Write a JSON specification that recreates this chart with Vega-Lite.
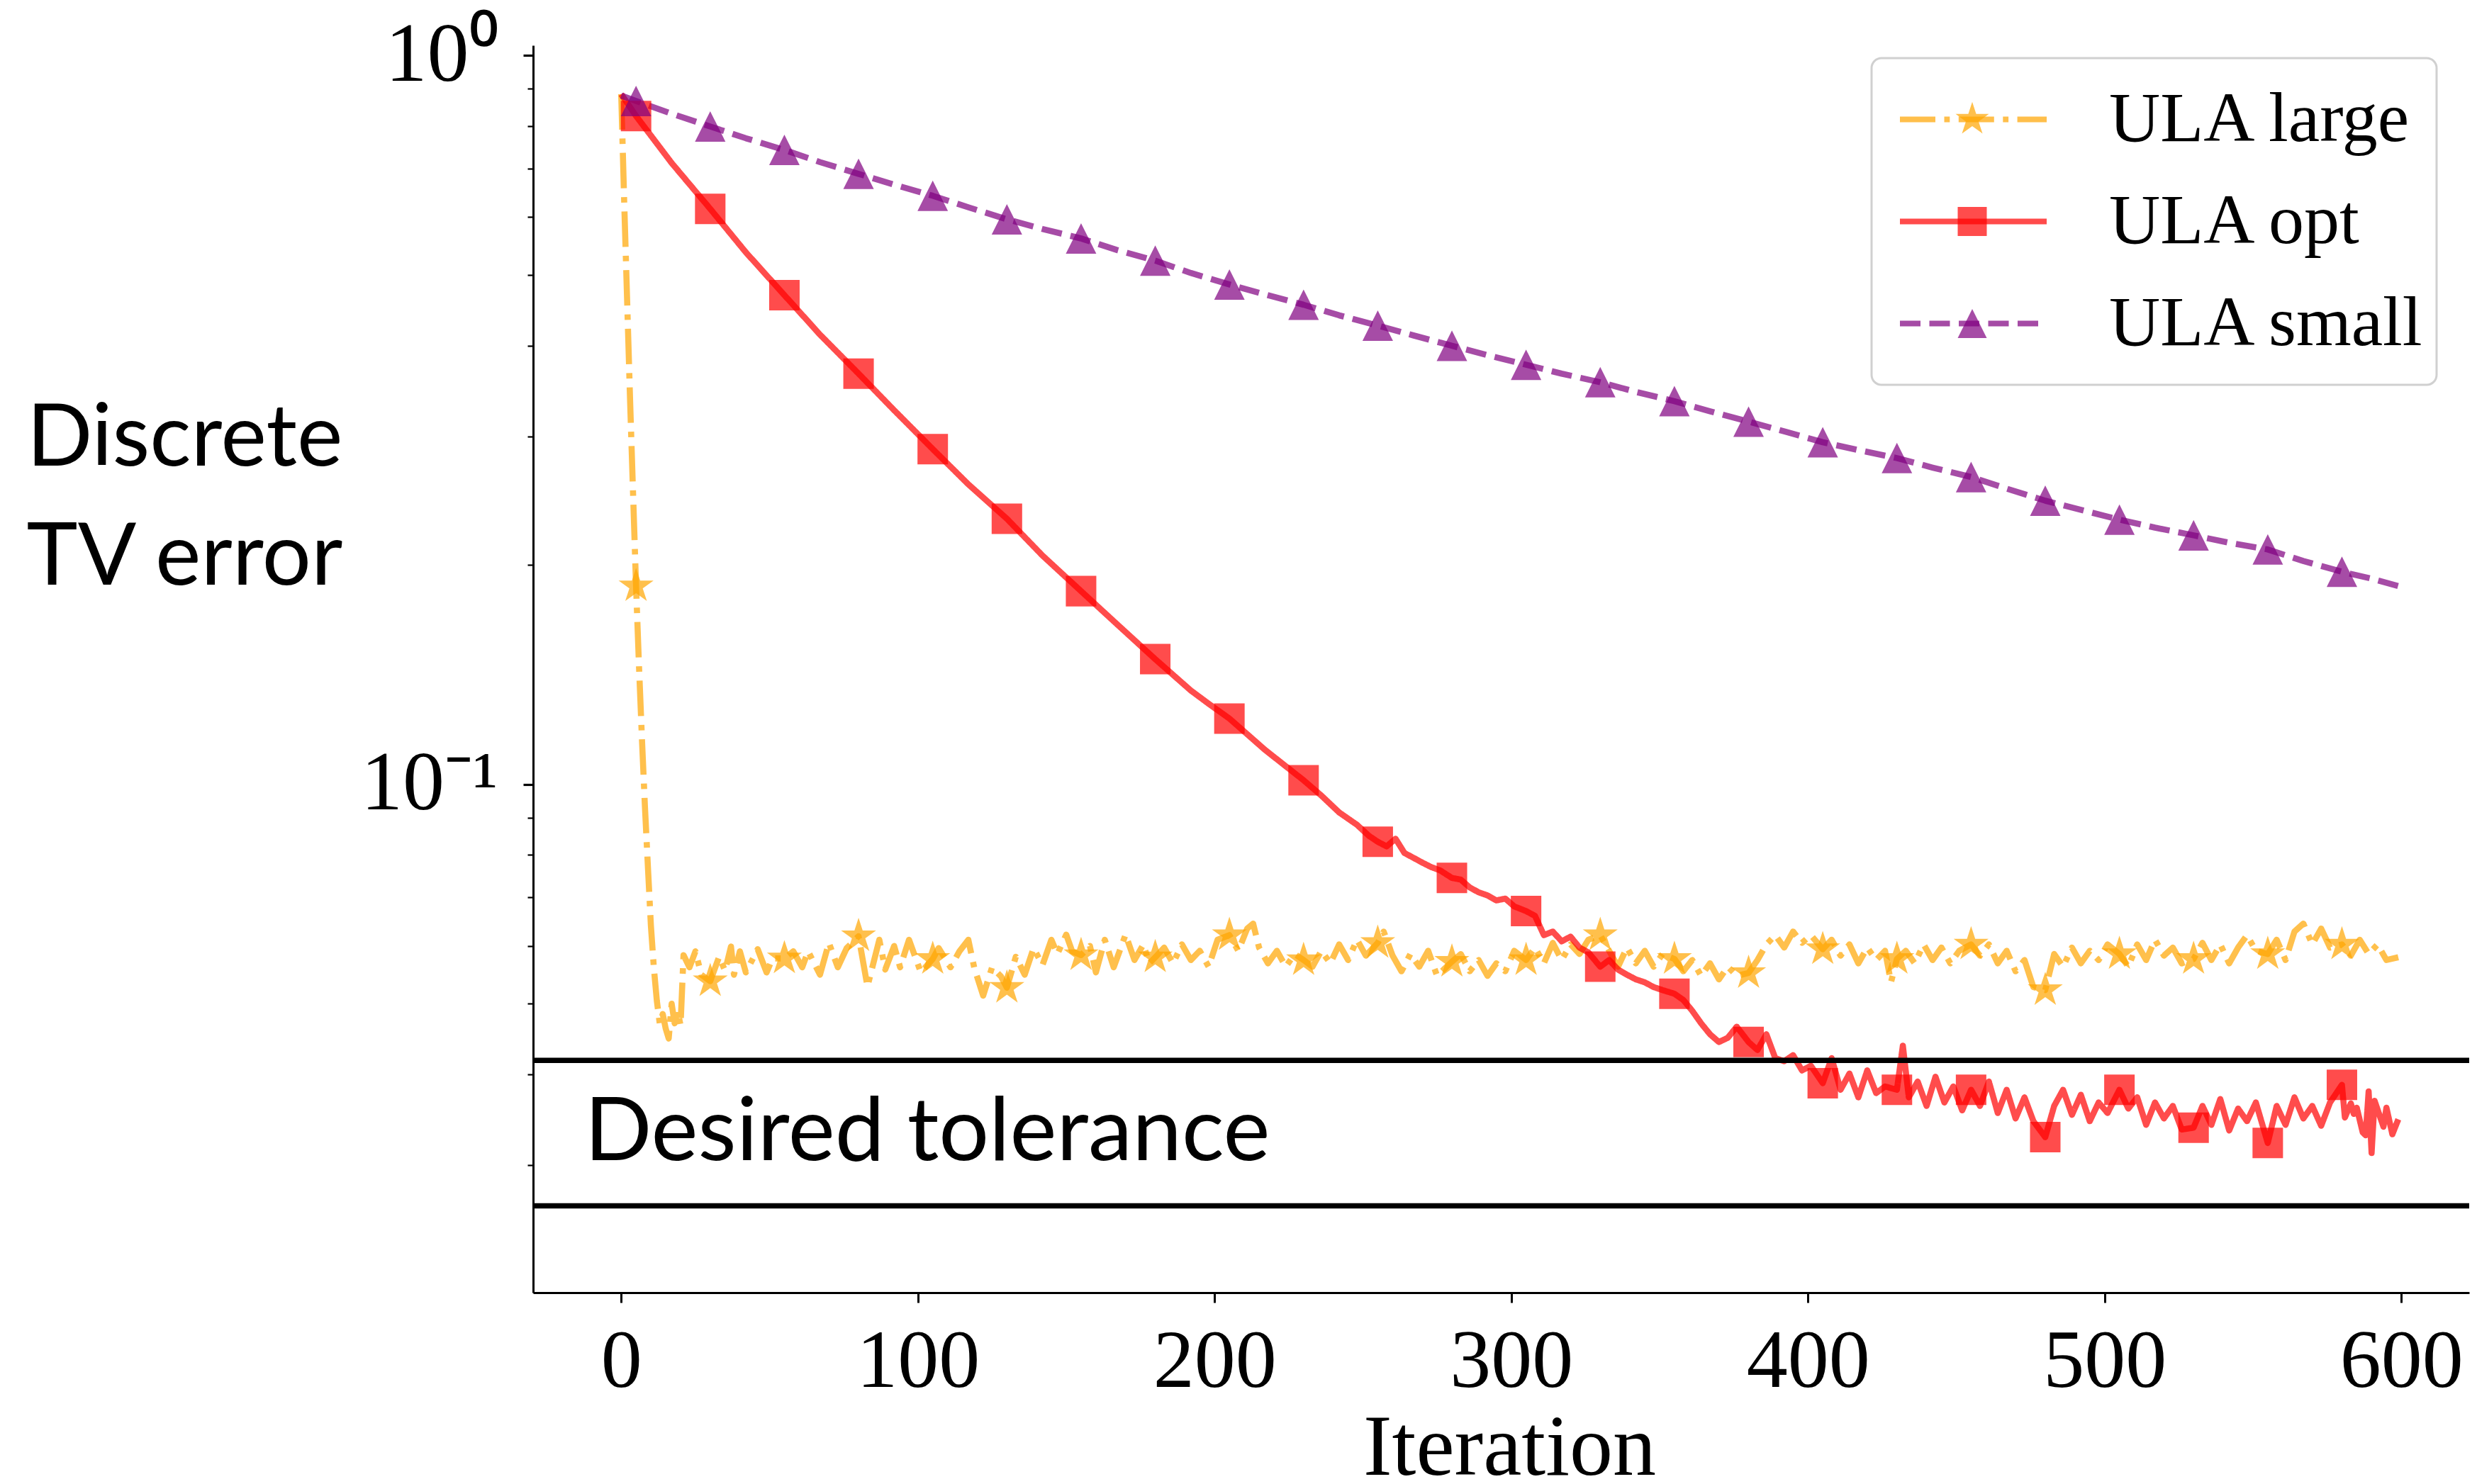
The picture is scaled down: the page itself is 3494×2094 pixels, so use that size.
{
  "$schema": "https://vega.github.io/schema/vega-lite/v6.json",
  "width": 2731,
  "height": 1760,
  "autosize": {"type": "none"},
  "padding": {"left": 752, "top": 64, "right": 11, "bottom": 270},
  "background": "white",
  "config": {"view": {"stroke": null}, "font": "Liberation Serif"},
  "datasets": {
    "curves": [
      {"s":"ULA large","it":0,"v":0.885},{"s":"ULA large","it":1,"v":0.63},{"s":"ULA large","it":2,"v":0.46},{"s":"ULA large","it":3,"v":0.335},{"s":"ULA large","it":4,"v":0.25},{"s":"ULA large","it":5,"v":0.187},{"s":"ULA large","it":6,"v":0.145},{"s":"ULA large","it":7,"v":0.115},{"s":"ULA large","it":8,"v":0.093},{"s":"ULA large","it":9,"v":0.077},{"s":"ULA large","it":10,"v":0.064},{"s":"ULA large","it":11,"v":0.056},{"s":"ULA large","it":12,"v":0.0505},{"s":"ULA large","it":13,"v":0.0469},{"s":"ULA large","it":14,"v":0.0484},{"s":"ULA large","it":15,"v":0.0462},{"s":"ULA large","it":16,"v":0.0448},{"s":"ULA large","it":17,"v":0.05},{"s":"ULA large","it":18,"v":0.047},{"s":"ULA large","it":19,"v":0.0489},{"s":"ULA large","it":20,"v":0.0467},{"s":"ULA large","it":21,"v":0.0583},{"s":"ULA large","it":23,"v":0.0561},{"s":"ULA large","it":25,"v":0.059},{"s":"ULA large","it":27,"v":0.0548},{"s":"ULA large","it":30,"v":0.0537},{"s":"ULA large","it":33,"v":0.058},{"s":"ULA large","it":35,"v":0.0555},{"s":"ULA large","it":37,"v":0.0599},{"s":"ULA large","it":38,"v":0.0548},{"s":"ULA large","it":40,"v":0.059},{"s":"ULA large","it":42,"v":0.0552},{"s":"ULA large","it":46,"v":0.0594},{"s":"ULA large","it":49,"v":0.0552},{"s":"ULA large","it":51,"v":0.0577},{"s":"ULA large","it":55,"v":0.0577},{"s":"ULA large","it":58,"v":0.059},{"s":"ULA large","it":61,"v":0.0561},{"s":"ULA large","it":63,"v":0.059},{"s":"ULA large","it":67,"v":0.0548},{"s":"ULA large","it":70,"v":0.0606},{"s":"ULA large","it":73,"v":0.0561},{"s":"ULA large","it":76,"v":0.0596},{"s":"ULA large","it":80,"v":0.0619},{"s":"ULA large","it":83,"v":0.0528},{"s":"ULA large","it":87,"v":0.0612},{"s":"ULA large","it":89,"v":0.0557},{"s":"ULA large","it":92,"v":0.06},{"s":"ULA large","it":94,"v":0.0561},{"s":"ULA large","it":97,"v":0.0612},{"s":"ULA large","it":101,"v":0.0552},{"s":"ULA large","it":105,"v":0.0576},{"s":"ULA large","it":107,"v":0.0596},{"s":"ULA large","it":111,"v":0.0561},{"s":"ULA large","it":114,"v":0.059},{"s":"ULA large","it":117,"v":0.0612},{"s":"ULA large","it":119,"v":0.056},{"s":"ULA large","it":122,"v":0.0513},{"s":"ULA large","it":125,"v":0.0561},{"s":"ULA large","it":128,"v":0.0545},{"s":"ULA large","it":130,"v":0.0526},{"s":"ULA large","it":133,"v":0.058},{"s":"ULA large","it":136,"v":0.0548},{"s":"ULA large","it":139,"v":0.0596},{"s":"ULA large","it":142,"v":0.0565},{"s":"ULA large","it":145,"v":0.0612},{"s":"ULA large","it":147,"v":0.0585},{"s":"ULA large","it":150,"v":0.0622},{"s":"ULA large","it":152,"v":0.059},{"s":"ULA large","it":155,"v":0.0583},{"s":"ULA large","it":158,"v":0.06},{"s":"ULA large","it":160,"v":0.0552},{"s":"ULA large","it":163,"v":0.0612},{"s":"ULA large","it":166,"v":0.0561},
      {"s":"ULA large","it":170,"v":0.0622},{"s":"ULA large","it":173,"v":0.0574},{"s":"ULA large","it":176,"v":0.0603},{"s":"ULA large","it":178,"v":0.0568},{"s":"ULA large","it":180,"v":0.0579},{"s":"ULA large","it":183,"v":0.0597},{"s":"ULA large","it":186,"v":0.0568},{"s":"ULA large","it":189,"v":0.0603},{"s":"ULA large","it":192,"v":0.0574},{"s":"ULA large","it":195,"v":0.0591},{"s":"ULA large","it":198,"v":0.0562},{"s":"ULA large","it":201,"v":0.0612},{"s":"ULA large","it":205,"v":0.0621},{"s":"ULA large","it":208,"v":0.0591},{"s":"ULA large","it":211,"v":0.0634},{"s":"ULA large","it":213,"v":0.0644},{"s":"ULA large","it":215,"v":0.0597},{"s":"ULA large","it":218,"v":0.0568},{"s":"ULA large","it":221,"v":0.0591},{"s":"ULA large","it":224,"v":0.0562},{"s":"ULA large","it":227,"v":0.0585},{"s":"ULA large","it":230,"v":0.0574},{"s":"ULA large","it":233,"v":0.0562},{"s":"ULA large","it":236,"v":0.0591},{"s":"ULA large","it":239,"v":0.0568},{"s":"ULA large","it":242,"v":0.0603},{"s":"ULA large","it":245,"v":0.0574},{"s":"ULA large","it":248,"v":0.0612},{"s":"ULA large","it":251,"v":0.0582},{"s":"ULA large","it":255,"v":0.0606},{"s":"ULA large","it":257,"v":0.0628},{"s":"ULA large","it":260,"v":0.0582},{"s":"ULA large","it":263,"v":0.0554},{"s":"ULA large","it":266,"v":0.0585},{"s":"ULA large","it":269,"v":0.0562},{"s":"ULA large","it":272,"v":0.0591},{"s":"ULA large","it":275,"v":0.0546},{"s":"ULA large","it":280,"v":0.0571},{"s":"ULA large","it":283,"v":0.0585},{"s":"ULA large","it":286,"v":0.0554},{"s":"ULA large","it":289,"v":0.0574},{"s":"ULA large","it":292,"v":0.0546},{"s":"ULA large","it":295,"v":0.0568},{"s":"ULA large","it":298,"v":0.0554},{"s":"ULA large","it":301,"v":0.0591},{"s":"ULA large","it":305,"v":0.0574},{"s":"ULA large","it":308,"v":0.0597},{"s":"ULA large","it":311,"v":0.0568},{"s":"ULA large","it":314,"v":0.0606},{"s":"ULA large","it":317,"v":0.0574},{"s":"ULA large","it":320,"v":0.0603},{"s":"ULA large","it":323,"v":0.0585},{"s":"ULA large","it":326,"v":0.0612},{"s":"ULA large","it":330,"v":0.0621},{"s":"ULA large","it":333,"v":0.0591},{"s":"ULA large","it":336,"v":0.0562},{"s":"ULA large","it":339,"v":0.0597},{"s":"ULA large","it":342,"v":0.0568},{"s":"ULA large","it":345,"v":0.0591},{"s":"ULA large","it":348,"v":0.0562},{"s":"ULA large","it":351,"v":0.0585},{"s":"ULA large","it":355,"v":0.0576},{"s":"ULA large","it":358,"v":0.0554},{"s":"ULA large","it":361,"v":0.0574},{"s":"ULA large","it":364,"v":0.0546},{"s":"ULA large","it":367,"v":0.0568},{"s":"ULA large","it":370,"v":0.054},{"s":"ULA large","it":373,"v":0.0562},{"s":"ULA large","it":376,"v":0.0546},{"s":"ULA large","it":380,"v":0.0551},{"s":"ULA large","it":383,"v":0.0574},{"s":"ULA large","it":386,"v":0.0603},{"s":"ULA large","it":389,"v":0.0621},{"s":"ULA large","it":392,"v":0.0597},{"s":"ULA large","it":395,"v":0.0628},{"s":"ULA large","it":398,"v":0.0606},{"s":"ULA large","it":401,"v":0.0621},{"s":"ULA large","it":405,"v":0.0594},{"s":"ULA large","it":408,"v":0.0612},{"s":"ULA large","it":411,"v":0.0582},{"s":"ULA large","it":414,"v":0.0603},{"s":"ULA large","it":417,"v":0.0568},{"s":"ULA large","it":420,"v":0.0597},{"s":"ULA large","it":423,"v":0.0574},{"s":"ULA large","it":426,"v":0.0591},{"s":"ULA large","it":428,"v":0.0535},{"s":"ULA large","it":430,"v":0.0576},{"s":"ULA large","it":433,"v":0.0591},{"s":"ULA large","it":436,"v":0.0568},{"s":"ULA large","it":439,"v":0.0603},{"s":"ULA large","it":442,"v":0.0574},{"s":"ULA large","it":445,"v":0.0597},{"s":"ULA large","it":448,"v":0.0568},{"s":"ULA large","it":451,"v":0.0591},{"s":"ULA large","it":455,"v":0.0603},{"s":"ULA large","it":458,"v":0.0582},{"s":"ULA large","it":461,"v":0.0603},{"s":"ULA large","it":464,"v":0.0568},{"s":"ULA large","it":467,"v":0.0591},{"s":"ULA large","it":470,"v":0.0554},{"s":"ULA large","it":473,"v":0.0574},{"s":"ULA large","it":476,"v":0.0527},{"s":"ULA large","it":480,"v":0.0522},{"s":"ULA large","it":483,"v":0.0585},{"s":"ULA large","it":486,"v":0.0562},{"s":"ULA large","it":489,"v":0.0597},{"s":"ULA large","it":492,"v":0.0568},{"s":"ULA large","it":495,"v":0.0591},{"s":"ULA large","it":498,"v":0.0574},{"s":"ULA large","it":501,"v":0.0603},{"s":"ULA large","it":505,"v":0.0585},{"s":"ULA large","it":508,"v":0.0562},{"s":"ULA large","it":511,"v":0.0603},{"s":"ULA large","it":514,"v":0.0574},{"s":"ULA large","it":517,"v":0.0612},{"s":"ULA large","it":520,"v":0.0582},{"s":"ULA large","it":523,"v":0.0597},{"s":"ULA large","it":526,"v":0.0568},{"s":"ULA large","it":530,"v":0.0576},{"s":"ULA large","it":533,"v":0.0606},{"s":"ULA large","it":536,"v":0.0574},{"s":"ULA large","it":539,"v":0.0603},{"s":"ULA large","it":542,"v":0.0568},{"s":"ULA large","it":545,"v":0.0597},{"s":"ULA large","it":548,"v":0.0621},{"s":"ULA large","it":551,"v":0.0591},{"s":"ULA large","it":555,"v":0.0585},{"s":"ULA large","it":558,"v":0.0612},{"s":"ULA large","it":561,"v":0.0574},{"s":"ULA large","it":564,"v":0.0628},{"s":"ULA large","it":567,"v":0.0644},{"s":"ULA large","it":570,"v":0.0603},{"s":"ULA large","it":573,"v":0.0634},{"s":"ULA large","it":576,"v":0.0597},{"s":"ULA large","it":580,"v":0.0603},{"s":"ULA large","it":583,"v":0.0582},{"s":"ULA large","it":586,"v":0.0612},{"s":"ULA large","it":589,"v":0.0585},{"s":"ULA large","it":592,"v":0.0603},{"s":"ULA large","it":595,"v":0.0574},{"s":"ULA large","it":599,"v":0.0579},
      {"s":"ULA opt","it":0,"v":0.885},{"s":"ULA opt","it":5,"v":0.826},{"s":"ULA opt","it":17,"v":0.712},{"s":"ULA opt","it":30,"v":0.616},{"s":"ULA opt","it":42,"v":0.537},{"s":"ULA opt","it":55,"v":0.469},{"s":"ULA opt","it":67,"v":0.414},{"s":"ULA opt","it":80,"v":0.366},{"s":"ULA opt","it":92,"v":0.326},{"s":"ULA opt","it":105,"v":0.2884},{"s":"ULA opt","it":117,"v":0.258},{"s":"ULA opt","it":130,"v":0.2314},{"s":"ULA opt","it":142,"v":0.206},{"s":"ULA opt","it":155,"v":0.1841},{"s":"ULA opt","it":167,"v":0.166},{"s":"ULA opt","it":180,"v":0.1485},{"s":"ULA opt","it":192,"v":0.1345},{"s":"ULA opt","it":198,"v":0.129},{"s":"ULA opt","it":205,"v":0.1231},{"s":"ULA opt","it":217,"v":0.1115},{"s":"ULA opt","it":230,"v":0.1013},{"s":"ULA opt","it":236,"v":0.0965},{"s":"ULA opt","it":242,"v":0.0915},{"s":"ULA opt","it":248,"v":0.088},{"s":"ULA opt","it":252,"v":0.085},{"s":"ULA opt","it":255,"v":0.0834},{"s":"ULA opt","it":258,"v":0.0822},{"s":"ULA opt","it":261,"v":0.0842},{"s":"ULA opt","it":264,"v":0.0805},{"s":"ULA opt","it":267,"v":0.0793},{"s":"ULA opt","it":270,"v":0.0781},{"s":"ULA opt","it":273,"v":0.077},{"s":"ULA opt","it":276,"v":0.0762},{"s":"ULA opt","it":280,"v":0.0744},{"s":"ULA opt","it":283,"v":0.074},{"s":"ULA opt","it":286,"v":0.0722},{"s":"ULA opt","it":289,"v":0.0711},{"s":"ULA opt","it":292,"v":0.0704},{"s":"ULA opt","it":295,"v":0.0693},{"s":"ULA opt","it":298,"v":0.0697},{"s":"ULA opt","it":301,"v":0.068},{"s":"ULA opt","it":305,"v":0.067},{"s":"ULA opt","it":308,"v":0.066},{"s":"ULA opt","it":311,"v":0.0621},{"s":"ULA opt","it":314,"v":0.0628},{"s":"ULA opt","it":317,"v":0.0609},{"s":"ULA opt","it":320,"v":0.0618},{"s":"ULA opt","it":323,"v":0.0597},{"s":"ULA opt","it":326,"v":0.0588},{"s":"ULA opt","it":330,"v":0.0562},{"s":"ULA opt","it":333,"v":0.0574},{"s":"ULA opt","it":336,"v":0.0557},{"s":"ULA opt","it":339,"v":0.0548},{"s":"ULA opt","it":342,"v":0.054},{"s":"ULA opt","it":345,"v":0.0535},{"s":"ULA opt","it":348,"v":0.0527},{"s":"ULA opt","it":351,"v":0.0522},{"s":"ULA opt","it":355,"v":0.0516},{"s":"ULA opt","it":358,"v":0.0506},{"s":"ULA opt","it":361,"v":0.0489},{"s":"ULA opt","it":364,"v":0.047},{"s":"ULA opt","it":367,"v":0.0454},{"s":"ULA opt","it":370,"v":0.0443},{"s":"ULA opt","it":373,"v":0.0449},{"s":"ULA opt","it":376,"v":0.0465},{"s":"ULA opt","it":380,"v":0.0443},{"s":"ULA opt","it":383,"v":0.0432},{"s":"ULA opt","it":386,"v":0.0454},{"s":"ULA opt","it":389,"v":0.0421},{"s":"ULA opt","it":392,"v":0.0417},{"s":"ULA opt","it":395,"v":0.0425},{"s":"ULA opt","it":398,"v":0.0405},{"s":"ULA opt","it":401,"v":0.0411},{"s":"ULA opt","it":405,"v":0.0389},{"s":"ULA opt","it":408,"v":0.0421},{"s":"ULA opt","it":411,"v":0.0381},{"s":"ULA opt","it":414,"v":0.0401},{"s":"ULA opt","it":417,"v":0.0372},{"s":"ULA opt","it":420,"v":0.0405},{"s":"ULA opt","it":423,"v":0.0377},{"s":"ULA opt","it":426,"v":0.0385},{"s":"ULA opt","it":430,"v":0.0381},{"s":"ULA opt","it":432,"v":0.0438},{"s":"ULA opt","it":434,"v":0.0372},{"s":"ULA opt","it":437,"v":0.0391},{"s":"ULA opt","it":440,"v":0.0362},{"s":"ULA opt","it":443,"v":0.0397},{"s":"ULA opt","it":446,"v":0.0366},{"s":"ULA opt","it":449,"v":0.0385},{"s":"ULA opt","it":452,"v":0.0357},{"s":"ULA opt","it":455,"v":0.0381},{"s":"ULA opt","it":458,"v":0.0362},{"s":"ULA opt","it":461,"v":0.0391},{"s":"ULA opt","it":464,"v":0.0354},{"s":"ULA opt","it":467,"v":0.0381},{"s":"ULA opt","it":470,"v":0.0348},{"s":"ULA opt","it":473,"v":0.0372},{"s":"ULA opt","it":476,"v":0.0345},{"s":"ULA opt","it":480,"v":0.0328},{"s":"ULA opt","it":483,"v":0.0362},{"s":"ULA opt","it":486,"v":0.0381},{"s":"ULA opt","it":489,"v":0.0352},{"s":"ULA opt","it":492,"v":0.0375},{"s":"ULA opt","it":495,"v":0.0345},{"s":"ULA opt","it":498,"v":0.0366},{"s":"ULA opt","it":501,"v":0.0354},{"s":"ULA opt","it":505,"v":0.0381},{"s":"ULA opt","it":508,"v":0.0359},{"s":"ULA opt","it":511,"v":0.0372},{"s":"ULA opt","it":514,"v":0.0341},{"s":"ULA opt","it":517,"v":0.0366},{"s":"ULA opt","it":520,"v":0.0348},{"s":"ULA opt","it":523,"v":0.0362},{"s":"ULA opt","it":526,"v":0.0336},{"s":"ULA opt","it":530,"v":0.0338},{"s":"ULA opt","it":533,"v":0.0362},{"s":"ULA opt","it":536,"v":0.0341},{"s":"ULA opt","it":539,"v":0.037},{"s":"ULA opt","it":542,"v":0.0335},{"s":"ULA opt","it":545,"v":0.0359},{"s":"ULA opt","it":548,"v":0.0345},{"s":"ULA opt","it":551,"v":0.0366},{"s":"ULA opt","it":555,"v":0.0322},{"s":"ULA opt","it":558,"v":0.0362},{"s":"ULA opt","it":561,"v":0.0341},{"s":"ULA opt","it":564,"v":0.0372},{"s":"ULA opt","it":567,"v":0.0348},{"s":"ULA opt","it":570,"v":0.0362},{"s":"ULA opt","it":573,"v":0.034},{"s":"ULA opt","it":576,"v":0.0366},{"s":"ULA opt","it":580,"v":0.0387},{"s":"ULA opt","it":581,"v":0.0349},{"s":"ULA opt","it":583,"v":0.0365},{"s":"ULA opt","it":584,"v":0.0353},{"s":"ULA opt","it":585,"v":0.036},{"s":"ULA opt","it":587,"v":0.0333},{"s":"ULA opt","it":588,"v":0.033},{"s":"ULA opt","it":589,"v":0.0379},{"s":"ULA opt","it":590,"v":0.0312},{"s":"ULA opt","it":591,"v":0.0368},{"s":"ULA opt","it":594,"v":0.0339},{"s":"ULA opt","it":595,"v":0.036},{"s":"ULA opt","it":597,"v":0.0331},{"s":"ULA opt","it":599,"v":0.0347},
      {"s":"ULA small","it":0,"v":0.881},{"s":"ULA small","it":5,"v":0.866},{"s":"ULA small","it":17,"v":0.832},{"s":"ULA small","it":30,"v":0.799},{"s":"ULA small","it":42,"v":0.77},{"s":"ULA small","it":55,"v":0.742},{"s":"ULA small","it":67,"v":0.714},{"s":"ULA small","it":80,"v":0.688},{"s":"ULA small","it":92,"v":0.665},{"s":"ULA small","it":105,"v":0.642},{"s":"ULA small","it":117,"v":0.619},{"s":"ULA small","it":130,"v":0.596},{"s":"ULA small","it":142,"v":0.578},{"s":"ULA small","it":155,"v":0.561},{"s":"ULA small","it":167,"v":0.541},{"s":"ULA small","it":180,"v":0.523},{"s":"ULA small","it":192,"v":0.503},{"s":"ULA small","it":205,"v":0.485},{"s":"ULA small","it":217,"v":0.47},{"s":"ULA small","it":230,"v":0.455},{"s":"ULA small","it":242,"v":0.44},{"s":"ULA small","it":255,"v":0.426},{"s":"ULA small","it":267,"v":0.413},{"s":"ULA small","it":280,"v":0.3997},{"s":"ULA small","it":292,"v":0.388},{"s":"ULA small","it":305,"v":0.3764},{"s":"ULA small","it":317,"v":0.366},{"s":"ULA small","it":330,"v":0.3562},{"s":"ULA small","it":342,"v":0.3455},{"s":"ULA small","it":355,"v":0.3355},{"s":"ULA small","it":367,"v":0.325},{"s":"ULA small","it":380,"v":0.3145},{"s":"ULA small","it":392,"v":0.305},{"s":"ULA small","it":405,"v":0.2947},{"s":"ULA small","it":417,"v":0.2875},{"s":"ULA small","it":430,"v":0.2803},{"s":"ULA small","it":442,"v":0.272},{"s":"ULA small","it":455,"v":0.264},{"s":"ULA small","it":467,"v":0.2545},{"s":"ULA small","it":480,"v":0.245},{"s":"ULA small","it":492,"v":0.238},{"s":"ULA small","it":505,"v":0.2308},{"s":"ULA small","it":517,"v":0.225},{"s":"ULA small","it":530,"v":0.2196},{"s":"ULA small","it":542,"v":0.2145},{"s":"ULA small","it":555,"v":0.21},{"s":"ULA small","it":567,"v":0.2025},{"s":"ULA small","it":580,"v":0.1957},{"s":"ULA small","it":590,"v":0.1915},{"s":"ULA small","it":599,"v":0.1871}
    ],
    "tol": [{"v": 0.0418}, {"v": 0.0264}],
    "note": [{"it": -12.4, "v": 0.03053, "label": "Desired tolerance"}]
  },
  "layer": [
    {
      "data": {"name": "curves"},
      "mark": {"type": "line", "strokeWidth": 8.6, "opacity": 0.7, "strokeCap": "butt", "strokeJoin": "round"},
      "encoding": {
        "x": {"field": "it", "type": "quantitative",
          "scale": {"domain": [-29.7, 622.9], "nice": false, "zero": false},
          "axis": {"values": [0, 100, 200, 300, 400, 500, 600], "title": "Iteration",
            "titleFont": "Liberation Serif", "titleFontSize": 122, "titleFontWeight": "normal", "titleColor": "black",
            "titleBaseline": "alphabetic", "titleY": 256, "titleX": 1377,
            "labelFont": "Liberation Serif", "labelFontSize": 116, "labelColor": "black", "labelPadding": 26,
            "labelFlush": false, "labelOverlap": false,
            "tickSize": 14, "tickWidth": 3, "tickColor": "black", "domainColor": "black", "domainWidth": 3, "grid": false}},
        "y": {"field": "v", "type": "quantitative",
          "scale": {"type": "log", "domain": [0.02007, 1.0325], "nice": false},
          "axis": {"values": [1, 0.9, 0.8, 0.7, 0.6, 0.5, 0.4, 0.3, 0.2, 0.1, 0.09, 0.08, 0.07, 0.06, 0.05, 0.04, 0.03],
            "labelExpr": "datum.value == 1 ? '10⁰' : (datum.value == 0.1 ? '10⁻¹' : '')",
            "labelFont": "Liberation Serif", "labelFontSize": 118, "labelColor": "black", "labelPadding": 36,
            "labelOverlap": false, "labelFlush": false, "labelLimit": 1000,
            "tickSize": {"condition": {"test": "datum.value == 1 || datum.value == 0.1", "value": 14}, "value": 8},
            "tickWidth": {"condition": {"test": "datum.value == 1 || datum.value == 0.1", "value": 3.2}, "value": 2.2},
            "tickColor": "black", "domainColor": "black", "domainWidth": 3, "grid": false,
            "title": ["Discrete", "TV error"], "titleFont": "Lato", "titleFontSize": 122, "titleFontWeight": "normal",
            "titleColor": "black", "titleAngle": 0, "titleAlign": "center", "titleBaseline": "alphabetic",
            "titleX": -492, "titleY": 592, "titleLineHeight": 168}},
        "stroke": {"field": "s", "type": "nominal",
          "scale": {"domain": ["ULA large", "ULA opt", "ULA small"], "range": ["#FFA500", "#FF0000", "#800080"]},
          "legend": {"orient": "none", "legendX": 1888, "legendY": 18, "title": null, "symbolType": "stroke",
            "symbolSize": 42849, "symbolStrokeWidth": 7.8, "symbolOpacity": 0.7, "symbolOffset": 21.5,
            "labelOffset": 84, "labelFont": "Liberation Serif", "labelFontSize": 100, "labelColor": "black",
            "labelLimit": 1000, "clipHeight": 144, "rowPadding": 0, "padding": 14.5,
            "strokeColor": "#d0d0d0", "fillColor": "rgba(255,255,255,0.8)", "cornerRadius": 14,
            "encode": {"legend": {"update": {"strokeWidth": {"value": 3}}}}}},
        "strokeDash": {"field": "s", "type": "nominal",
          "scale": {"domain": ["ULA large", "ULA opt", "ULA small"], "range": [[50, 12.5, 7.8, 12.5], [1, 0], [29, 12.5]]},
          "legend": {"orient": "none", "legendX": 1888, "legendY": 18, "title": null, "symbolType": "stroke",
            "symbolSize": 42849, "symbolStrokeWidth": 7.8, "symbolOpacity": 0.7, "symbolOffset": 21.5,
            "labelOffset": 84, "labelFont": "Liberation Serif", "labelFontSize": 100, "labelColor": "black",
            "labelLimit": 1000, "clipHeight": 144, "rowPadding": 0, "padding": 14.5,
            "strokeColor": "#d0d0d0", "fillColor": "rgba(255,255,255,0.8)", "cornerRadius": 14,
            "encode": {"legend": {"update": {"strokeWidth": {"value": 3}}}}}}
      }
    },
    {
      "data": {"name": "curves"},
      "transform": [{"filter": "(datum.it - 5) % 25 == 0"}],
      "mark": {"type": "point", "filled": true, "opacity": 0.7, "size": 1850, "strokeWidth": 0},
      "encoding": {
        "x": {"field": "it", "type": "quantitative", "scale": {"domain": [-29.7, 622.9], "nice": false, "zero": false}},
        "y": {"field": "v", "type": "quantitative", "scale": {"type": "log", "domain": [0.02007, 1.0325], "nice": false}},
        "fill": {"field": "s", "type": "nominal",
          "scale": {"range": ["#FFA500", "#FF0000", "#800080"]},
          "legend": {"orient": "none", "legendX": 1888, "legendY": 18, "title": null,
            "symbolSize": 1681, "symbolStrokeWidth": 0, "symbolOpacity": 0.7, "symbolOffset": 77.5,
            "labelFontSize": 100, "labelExpr": "''", "labelLimit": 1000, "clipHeight": 144, "rowPadding": 0, "padding": 14.5}},
        "shape": {"field": "s", "type": "nominal",
          "scale": {"range": ["M0,-1.205L0.2706,-0.3724L1.146,-0.3724L0.4378,0.1422L0.7083,0.9749L0,0.4603L-0.7083,0.9749L-0.4378,0.1422L-1.146,-0.3724L-0.2706,-0.3724Z", "square", "M0,-1L1,1L-1,1Z"]},
          "legend": {"orient": "none", "legendX": 1888, "legendY": 18, "title": null,
            "symbolSize": 1681, "symbolStrokeWidth": 0, "symbolOpacity": 0.7, "symbolOffset": 77.5,
            "labelFontSize": 100, "labelExpr": "''", "labelLimit": 1000, "clipHeight": 144, "rowPadding": 0, "padding": 14.5}}
      }
    },
    {
      "data": {"name": "tol"},
      "mark": {"type": "rule", "color": "black", "strokeWidth": 7.5},
      "encoding": {
        "y": {"field": "v", "type": "quantitative", "scale": {"type": "log", "domain": [0.02007, 1.0325], "nice": false}}
      }
    },
    {
      "data": {"name": "note"},
      "mark": {"type": "text", "font": "Lato", "fontSize": 125, "align": "left", "baseline": "alphabetic", "color": "black"},
      "encoding": {
        "x": {"field": "it", "type": "quantitative", "scale": {"domain": [-29.7, 622.9], "nice": false, "zero": false}},
        "y": {"field": "v", "type": "quantitative", "scale": {"type": "log", "domain": [0.02007, 1.0325], "nice": false}},
        "text": {"field": "label"}
      }
    }
  ]
}
